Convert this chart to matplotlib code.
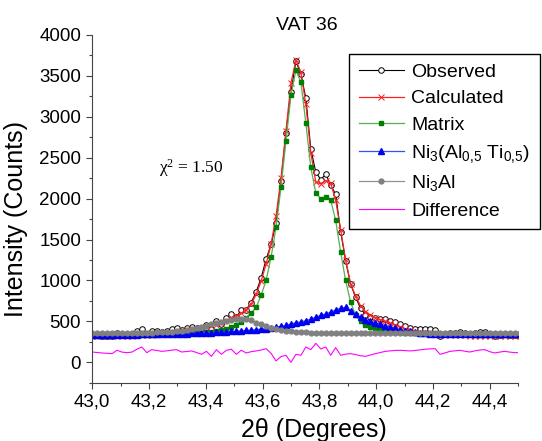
import numpy as np
import matplotlib
matplotlib.use("Agg")
import matplotlib.pyplot as plt
from matplotlib.ticker import MultipleLocator, FuncFormatter

plt.rcParams['font.family'] = ['Liberation Sans', 'DejaVu Sans']
plt.rcParams['mathtext.default'] = 'regular'

# 2theta scan positions (degrees)
two_theta = [
    43.0000, 43.0175, 43.0350, 43.0525, 43.0700, 43.0875, 43.1050, 43.1225, 43.1400, 43.1575,
    43.1750, 43.1925, 43.2100, 43.2275, 43.2450, 43.2625, 43.2800, 43.2975, 43.3150, 43.3325,
    43.3500, 43.3675, 43.3850, 43.4025, 43.4200, 43.4375, 43.4550, 43.4725, 43.4900, 43.5075,
    43.5250, 43.5425, 43.5600, 43.5775, 43.5950, 43.6125, 43.6300, 43.6475, 43.6650, 43.6825,
    43.7000, 43.7175, 43.7350, 43.7525, 43.7700, 43.7875, 43.8050, 43.8225, 43.8400, 43.8575,
    43.8750, 43.8925, 43.9100, 43.9275, 43.9450, 43.9625, 43.9800, 43.9975, 44.0150, 44.0325,
    44.0500, 44.0675, 44.0850, 44.1025, 44.1200, 44.1375, 44.1550, 44.1725, 44.1900, 44.2075,
    44.2250, 44.2425, 44.2600, 44.2775, 44.2950, 44.3125, 44.3300, 44.3475, 44.3650, 44.3825,
    44.4000, 44.4175, 44.4350, 44.4525, 44.4700, 44.4875, 44.5050,
]

observed = [
    334, 328, 323, 319, 316, 358, 337, 332, 341, 378,
    408, 342, 383, 378, 373, 386, 402, 418, 399, 415,
    432, 423, 411, 456, 406, 503, 466, 542, 588, 556,
    637, 644, 730, 859, 1030, 1257, 1440, 1697, 2210, 2806,
    3300, 3678, 3521, 3227, 2605, 2322, 2233, 2297, 2166, 2050,
    1596, 1240, 956, 795, 660, 583, 555, 541, 530, 524,
    510, 490, 472, 443, 419, 410, 405, 405, 402, 399,
    326, 340, 357, 361, 367, 353, 343, 356, 365, 369,
    343, 326, 336, 344, 335, 328, 328,
]

calculated = [
    318, 318, 319, 319, 320, 321, 322, 324, 326, 328,
    331, 334, 338, 343, 349, 356, 364, 373, 383, 393,
    403, 413, 423, 432, 443, 458, 478, 505, 538, 568,
    600, 640, 710, 830, 990, 1200, 1440, 1790, 2250, 2830,
    3410, 3690, 3545, 3150, 2560, 2200, 2180, 2220, 2190, 1980,
    1620, 1250, 960, 810, 690, 620, 575, 545, 520, 500,
    480, 455, 435, 410, 390, 375, 363, 355, 348, 342,
    338, 335, 333, 331, 330, 328, 327, 326, 325, 324,
    323, 322, 321, 320, 320, 320, 320,
]

matrix = [
    325, 326, 327, 328, 329, 330, 331, 332, 333, 334,
    335, 336, 337, 338, 340, 342, 344, 346, 348, 350,
    353, 357, 362, 368, 375, 385, 397, 412, 432, 460,
    495, 545, 605, 670, 820, 1000, 1284, 1650, 2140, 2700,
    3260, 3570, 3420, 2920, 2380, 2070, 2000, 2020, 1980, 1735,
    1345, 1000, 735, 575, 500, 455, 430, 415, 400, 390,
    380, 372, 365, 360, 356, 353, 351, 349, 348, 347,
    346, 345, 344, 343, 342, 341, 340, 339, 338, 337,
    336, 335, 334, 333, 332, 331, 330,
]

ni3_alti = [
    335, 335, 336, 336, 337, 337, 338, 338, 339, 339,
    340, 341, 342, 343, 344, 345, 347, 348, 350, 352,
    354, 356, 358, 361, 364, 367, 370, 373, 377, 381,
    385, 389, 394, 399, 405, 411, 420, 430, 440, 450,
    470, 482, 494, 508, 528, 550, 572, 592, 612, 640,
    660, 672, 625, 585, 550, 522, 500, 480, 465, 447,
    430, 415, 400, 388, 378, 368, 360, 354, 350, 347,
    345, 345, 345, 344, 344, 344, 344, 343, 343, 343,
    343, 343, 343, 343, 343, 343, 343,
]

ni3al = [
    355, 355, 356, 356, 357, 357, 358, 358, 359, 360,
    361, 362, 364, 366, 369, 372, 376, 381, 388, 397,
    408, 420, 433, 448, 462, 477, 493, 507, 520, 530,
    535, 530, 512, 485, 462, 440, 422, 408, 396, 387,
    380, 374, 370, 366, 363, 361, 359, 358, 358, 357,
    357, 357, 356, 356, 356, 356, 356, 355, 355, 355,
    355, 355, 355, 355, 355, 355, 355, 355, 355, 355,
    355, 355, 355, 355, 355, 355, 355, 355, 355, 355,
    355, 355, 355, 355, 355, 355, 355,
]

difference = [
    126, 120, 114, 110, 106, 147, 125, 118, 125, 160,
    187, 118, 155, 145, 134, 140, 148, 155, 126, 132,
    139, 120, 98, 134, 73, 155, 98, 147, 160, 98,
    147, 114, 130, 139, 150, 167, 110, 17, 70, 86,
    0, 98, 86, 187, 155, 232, 163, 187, 86, 180,
    86, 100, 106, 95, 80, 73, 90, 106, 120, 134,
    140, 145, 147, 143, 139, 145, 152, 160, 164, 167,
    98, 115, 134, 140, 147, 135, 126, 140, 150, 155,
    130, 114, 125, 134, 125, 118, 118,
]

fig = plt.figure(figsize=(5.42, 4.41), dpi=100)
ax = fig.add_axes([0.170, 0.132, 0.786, 0.789])

ax.plot(two_theta, observed, color='black', lw=0.8, marker='o', ms=4,
        mfc='white', mec='black', mew=0.7, label='Observed')
ax.plot(two_theta, calculated, color='#ff2020', lw=0.9, marker='x', ms=4,
        mew=0.7, label='Calculated')
ax.plot(two_theta, matrix, color='#55b055', lw=0.9, marker='s', ms=3.5,
        mfc='#008000', mec='#008000', label='Matrix')
ax.plot(two_theta, ni3_alti, color='#3050ff', lw=0.9, marker='^', ms=4.5,
        mfc='#0000ee', mec='#0000ee', label='Ni$_3$(Al$_{0{,}5}$ Ti$_{0{,}5}$)')
ax.plot(two_theta, ni3al, color='#909090', lw=0.9, marker='o', ms=3.5,
        mfc='#808080', mec='#808080', label='Ni$_3$Al')
ax.plot(two_theta, difference, color='#ff00ff', lw=0.8, label='Difference')

ax.set_xlim(43.0, 44.5)
ax.set_ylim(-250, 4000)

ax.spines['top'].set_visible(False)
ax.spines['right'].set_visible(False)
for s in ('left', 'bottom'):
    ax.spines[s].set_color('#444444')

ax.xaxis.set_major_locator(MultipleLocator(0.2))
ax.xaxis.set_minor_locator(MultipleLocator(0.1))
ax.yaxis.set_major_locator(MultipleLocator(500))
ax.yaxis.set_minor_locator(MultipleLocator(250))
ax.xaxis.set_major_formatter(FuncFormatter(lambda v, p: f"{v:.1f}".replace('.', ',')))
ax.tick_params(which='major', direction='out', length=4.5, width=0.8,
               color='#444444', labelsize=13.5)
ax.tick_params(which='minor', direction='out', length=2.5, width=0.8, color='#444444')

ax.set_xlabel('2θ (Degrees)', fontsize=18)
ax.set_ylabel('Intensity (Counts)', fontsize=18)
ax.xaxis.set_label_coords(0.521, -0.10)
ax.yaxis.set_label_coords(-0.15, 0.47)
ax.text(0.505, 1.026, 'VAT 36', transform=ax.transAxes, fontsize=14,
        ha='center', va='center')

ax.text(0.158, 0.618, 'χ$^2$ = 1.50', transform=ax.transAxes,
        fontsize=12.5, family='Liberation Serif', va='center')

leg = ax.legend(loc='upper right', bbox_to_anchor=(0.996, 0.878),
                bbox_transform=fig.transFigure, fontsize=14, frameon=True,
                fancybox=False, framealpha=1, edgecolor='black',
                handlelength=2.3, handletextpad=0.4, labelspacing=0.45,
                borderpad=0.5, borderaxespad=0)
leg.get_frame().set_linewidth(1.0)

fig.savefig('out.png', dpi=100)
